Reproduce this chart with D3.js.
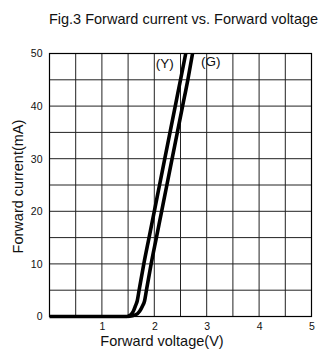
<!DOCTYPE html>
<html><head><meta charset="utf-8">
<script src="https://cdn.jsdelivr.net/npm/d3@7"></script>
<style>html,body{margin:0;padding:0;background:#fff;}svg{display:block;font-family:"Liberation Sans",Arial,sans-serif;}</style>
</head><body>
<svg id="c" width="321" height="354"></svg>
<script>
const title = "Fig.3 Forward current vs. Forward voltage";
const xTitle = "Forward voltage(V)";
const yTitle = "Forward current(mA)";
const xTicks = [1, 2, 3, 4, 5];
const yTicks = [0, 10, 20, 30, 40, 50];
const xGrid = [0.5, 1, 1.5, 2, 2.5, 3, 3.5, 4, 4.5];
const yGrid = [5, 10, 15, 20, 25, 30, 35, 40, 45];
// Yellow (Y) curve: voltage (V) and current (mA)
const yV = [0, 1.48, 1.55, 1.6, 1.64, 1.675, 1.71, 1.80, 1.90, 2.00, 2.10, 2.20, 2.30, 2.40, 2.50, 2.60];
const yI = [0, 0, 0.3, 1, 2, 3, 5, 10, 15, 20, 25, 30, 35, 40, 45, 50];
// Green (G) curve
const gV = [1.5, 1.64, 1.72, 1.775, 1.815, 1.85, 1.94, 2.04, 2.14, 2.24, 2.34, 2.44, 2.54, 2.64, 2.73];
const gI = [0, 0.3, 1, 2, 3, 5, 10, 15, 20, 25, 30, 35, 40, 45, 50];
const labels = ["(Y)", "(G)"];
const labelV = [2.03, 2.89];
const labelI = [47.2, 47.6];

const svg = d3.select("#c");
const x = d3.scaleLinear().domain([0, 5]).range([49.5, 311.5]);
const y = d3.scaleLinear().domain([0, 50]).range([316.5, 53.5]);

const g = svg.append("g");
g.selectAll("line.v").data(xGrid).join("line")
  .attr("x1", d => x(d)).attr("x2", d => x(d)).attr("y1", y(0)).attr("y2", y(50))
  .attr("stroke", "#222").attr("stroke-width", 1);
g.selectAll("line.h").data(yGrid).join("line")
  .attr("y1", d => y(d)).attr("y2", d => y(d)).attr("x1", x(0)).attr("x2", x(5))
  .attr("stroke", "#222").attr("stroke-width", 1);
g.append("rect").attr("x", x(0)).attr("y", y(50)).attr("width", x(5) - x(0)).attr("height", y(0) - y(50))
  .attr("fill", "none").attr("stroke", "#000").attr("stroke-width", 1.2);

const xAxis = d3.axisBottom(x).tickValues(xTicks).tickSize(0).tickPadding(6).tickFormat(d3.format("d"));
const ax = svg.append("g").attr("transform", `translate(0,${y(0)})`).call(xAxis);
ax.select(".domain").remove();
ax.selectAll("text").attr("font-size", 10.5).attr("fill", "#111").attr("font-family", "Liberation Sans, Arial, sans-serif");

const yAxis = d3.axisLeft(y).tickValues(yTicks).tickSize(0).tickPadding(7).tickFormat(d3.format("d"));
const ay = svg.append("g").attr("transform", `translate(${x(0)},0)`).call(yAxis);
ay.select(".domain").remove();
ay.selectAll("text").attr("font-size", 10.5).attr("fill", "#111").attr("font-family", "Liberation Sans, Arial, sans-serif");

const line = d3.line().x(d => x(d[0])).y(d => y(d[1])).curve(d3.curveMonotoneX);
[[yV, yI], [gV, gI]].forEach(([vs, is]) => {
  svg.append("path").datum(vs.map((v, i) => [v, is[i]]))
    .attr("d", line).attr("fill", "none").attr("stroke", "#000").attr("stroke-width", 3.6)
    .attr("stroke-linejoin", "round").attr("stroke-linecap", "butt");
});

svg.selectAll("text.lab").data(labels).join("text").attr("class", "lab")
  .attr("x", (d, i) => x(labelV[i])).attr("y", (d, i) => y(labelI[i]))
  .attr("text-anchor", "start").attr("font-size", 13.5).attr("fill", "#111")
  .text(d => d);

svg.append("text").attr("x", 183.5).attr("y", 24).attr("text-anchor", "middle")
  .attr("font-size", 14.5).attr("fill", "#111").text(title);
svg.append("text").attr("x", 162).attr("y", 346).attr("text-anchor", "middle")
  .attr("font-size", 14.5).attr("fill", "#111").text(xTitle);
svg.append("text").attr("transform", "translate(23,186.5) rotate(-90)").attr("text-anchor", "middle")
  .attr("font-size", 14.5).attr("fill", "#111").text(yTitle);
</script>
</body></html>
